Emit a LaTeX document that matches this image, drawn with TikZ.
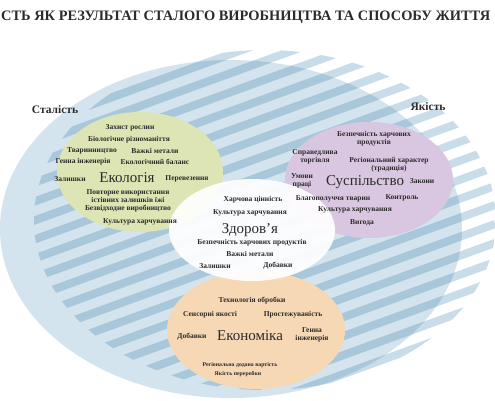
\documentclass[tikz,border=0pt]{standalone}
\usepackage{fontspec}
\setmainfont{Liberation Serif}
\definecolor{skyfill}{HTML}{D4E4EE}
\definecolor{stripein}{HTML}{A9C7DA}
\definecolor{stripeout}{HTML}{C9DCE9}
\definecolor{ecofill}{HTML}{DDE5B4}
\definecolor{socfill}{HTML}{D9C6E0}
\definecolor{econfill}{HTML}{F6D8B4}
\definecolor{ink}{HTML}{2B2B2B}
\begin{document}
\begin{tikzpicture}[x=1pt, y=-1pt,
  term/.style={font=\bfseries\fontsize{7.5}{8}\selectfont, text=ink, align=center, inner sep=0pt},
  smallterm/.style={term, font=\bfseries\fontsize{5.8}{6.5}\selectfont},
  topic/.style={font=\fontsize{15}{17}\selectfont, text=ink, inner sep=0pt},
  side/.style={font=\bfseries\fontsize{11.5}{13}\selectfont, text=ink, inner sep=0pt}]
  \useasboundingbox (0,0) rectangle (495,400);
  \fill[white] (0,0) rectangle (495,400);

  \node[font=\bfseries\fontsize{14.4}{16}\selectfont, text=ink, anchor=west, inner sep=0pt] (headline) at (1,17)
    {СТЬ ЯК РЕЗУЛЬТАТ СТАЛОГО ВИРОБНИЦТВА ТА СПОСОБУ ЖИТТЯ};

  % big ellipse and stripes
  \fill[skyfill] (231,229) ellipse [x radius=231, y radius=169];
  \begin{scope}
    \clip (265,220) ellipse [x radius=231, y radius=170];
    \foreach \b in {62,81,...,600}
      \draw[stripeout, line width=8pt] (0,\b) -- (495,{\b-180});
    \clip (231,229) ellipse [x radius=231, y radius=169];
    \foreach \b in {62,81,...,600}
      \draw[stripein, line width=8pt] (0,\b) -- (495,{\b-180});
  \end{scope}

  % four fields
  \fill[econfill] (256,330) ellipse [x radius=89, y radius=59];
  \fill[ecofill] (140,172) ellipse [x radius=83, y radius=60];
  \fill[socfill] (369,180) ellipse [x radius=84, y radius=58];
  \fill[white, opacity=0.92] (252,230) ellipse [x radius=83, y radius=51];

  \node[side] (stal) at (55,110) {Сталість};
  \node[side] (yak) at (428,107) {Якість};

  % ecology
  \node[topic] (eco) at (127,178) {Екологія};
  \node[term] (eco1) at (130,128) {Захист рослин};
  \node[term] (eco2) at (129,140) {Біологічне різноманіття};
  \node[term] (eco3) at (92,151) {Тваринництво};
  \node[term] (eco4) at (155,151) {Важкі метали};
  \node[term] (eco5) at (83,162) {Генна інженерія};
  \node[term] (eco6) at (155,162) {Екологічний баланс};
  \node[term] (eco7) at (70,179) {Залишки};
  \node[term] (eco8) at (187,179) {Перевезення};
  \node[term] (eco9) at (128,196) {Повторне використання\\істівних залишків їжі};
  \node[term] (eco10) at (128,209) {Безвідходне виробництво};
  \node[term] (eco11) at (140,222) {Культура харчування};

  % society
  \node[topic] (soc) at (365,182) {Суспільство};
  \node[term] (soc1) at (374,139) {Безпечність харчових\\продуктів};
  \node[term] (soc2) at (315,157) {Справедлива\\торгівля};
  \node[term] (soc3) at (389,165) {Регіональний характер\\(традиція)};
  \node[term] (soc4) at (302,181) {Умови\\праці};
  \node[term] (soc5) at (422,181) {Закони};
  \node[term] (soc6) at (333,199) {Благополуччя тварин};
  \node[term] (soc7) at (402,198) {Контроль};
  \node[term] (soc8) at (355,210) {Культура харчування};
  \node[term] (soc9) at (362,223) {Вигода};

  % health
  \node[topic] (hlt) at (250,230) {Здоров'я};
  \node[term] (hlt1) at (253,200) {Харчова цінність};
  \node[term] (hlt2) at (250,213) {Культура харчування};
  \node[term] (hlt3) at (252,243) {Безпечність харчових продуктів};
  \node[term] (hlt4) at (250,254) {Важкі метали};
  \node[term] (hlt5) at (215,266) {Залишки};
  \node[term] (hlt6) at (278,266) {Добавки};

  % economy
  \node[topic] (econ) at (250,336) {Економіка};
  \node[term] (econ1) at (252,301) {Технологія обробки};
  \node[term] (econ2) at (210,315) {Сенсорні якості};
  \node[term] (econ3) at (293,315) {Простежуваність};
  \node[term] (econ4) at (192,337) {Добавки};
  \node[term] (econ5) at (312,335) {Генна\\інженерія};
  \node[smallterm] (econ6) at (240,365) {Регіональна додана вартість};
  \node[smallterm] (econ7) at (238,374) {Якість переробки};
\end{tikzpicture}
\end{document}
